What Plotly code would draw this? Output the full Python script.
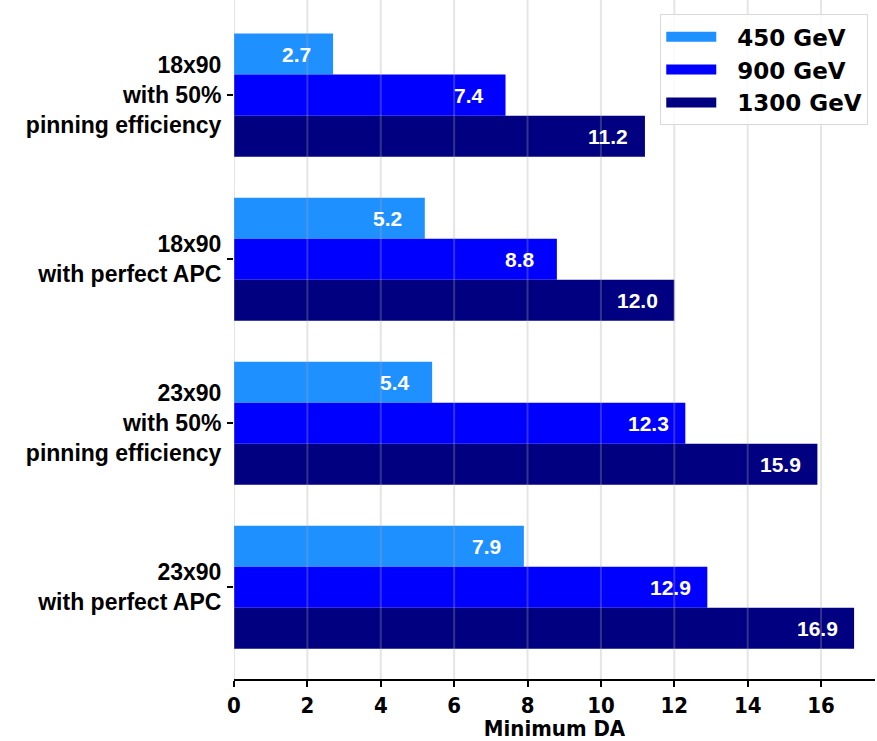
import plotly.graph_objects as go

categories = ["18x90<br>with 50%<br>pinning efficiency",
              "18x90<br>with perfect APC",
              "23x90<br>with 50%<br>pinning efficiency",
              "23x90<br>with perfect APC"]
series_names = ["450 GeV", "900 GeV", "1300 GeV"]
vals_450 = [2.7, 5.2, 5.4, 7.9]
vals_900 = [7.4, 8.8, 12.3, 12.9]
vals_1300 = [11.2, 12.0, 15.9, 16.9]
colors = ["#1E90FF", "#0000FF", "#000080"]
x_ticks = [0, 2, 4, 6, 8, 10, 12, 14, 16]

fig = go.Figure()
all_vals = [vals_450, vals_900, vals_1300]
for name, vals, col in zip(series_names, all_vals, colors):
    fig.add_trace(go.Bar(
        y=categories, x=vals, name=name, orientation="h",
        marker=dict(color=col, line=dict(width=0)),
        textposition="none", offsetgroup=name, showlegend=False,
    ))
# legend entries (wide colour swatches)
for name, col in zip(series_names, colors):
    fig.add_trace(go.Scatter(
        x=[None], y=[None], mode="lines", name="\u00a0\u00a0" + name,
        line=dict(color=col, width=17), showlegend=True,
    ))

NAR = "Liberation Sans Narrow, DejaVu Sans Condensed"
fig.update_layout(
    barmode="group", bargap=0.25, bargroupgap=0,
    width=877, height=741,
    margin=dict(l=234, r=2, t=0, b=62),
    plot_bgcolor="white", paper_bgcolor="white",
    legend=dict(
        x=0.665, y=0.979, xanchor="left", yanchor="top",
        font=dict(family="DejaVu Sans", size=23, color="black", weight="bold"),
        bordercolor="#d9d9d9", borderwidth=1, bgcolor="rgba(255,255,255,0.85)",
        itemwidth=50, traceorder="normal",
    ),
    xaxis=dict(
        range=[0, 17.47], tickvals=x_ticks, ticktext=[str(t) for t in x_ticks],
        showgrid=False, automargin=False,
        zeroline=False, showline=True, linecolor="black", linewidth=2,
        ticks="outside", ticklen=6, tickwidth=2, tickcolor="black",
        tickfont=dict(family=NAR, size=22, color="black", weight="bold"),
        title=dict(text="Minimum DA",
                   font=dict(family=NAR, size=22, color="black", weight="bold")),
    ),
    yaxis=dict(
        categoryorder="array", categoryarray=categories,
        range=[3.56, -0.58], automargin=False,
        showgrid=False, zeroline=False, showline=False,
        ticks="outside", ticklen=6, tickwidth=2, tickcolor="black",
        ticklabelstandoff=1,
        tickfont=dict(family="Liberation Sans, Arial", size=23, color="black", weight="bold"),
    ),
)

# value labels inside bars (from data)
n = len(series_names)
annotations = []
for i, vals in enumerate(all_vals):
    for j, v in enumerate(vals):
        off = (i - (n - 1) / 2) * (0.75 / n)
        annotations.append(dict(
            x=v, y=j + off, xref="x", yref="y", text=f"{v:.1f}",
            showarrow=False, xanchor="center", yanchor="middle", xshift=-37,
            font=dict(family="Liberation Sans, Arial", size=21, color="white", weight="bold"),
        ))
fig.update_layout(annotations=annotations)

# gridlines drawn over the bars
for t in x_ticks:
    fig.add_shape(type="line", xref="x", yref="paper", x0=t, x1=t, y0=0, y1=1,
                  line=dict(color="rgba(170,170,170,0.3)", width=2), layer="above")

fig.write_html("out.html", config={"displayModeBar": False},
               post_script="document.body.style.margin='0';")
